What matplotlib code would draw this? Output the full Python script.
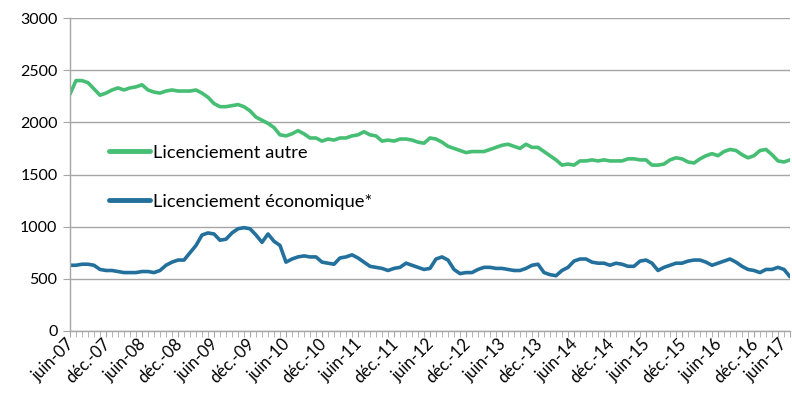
import matplotlib
matplotlib.use("Agg")
import matplotlib.pyplot as plt
import matplotlib.transforms as mtransforms
import numpy as np

autre = [2270, 2400, 2400, 2380, 2320, 2260, 2280, 2310, 2330, 2310,
         2330, 2340, 2360, 2310, 2290, 2280, 2300, 2310, 2300, 2300,
         2300, 2310, 2280, 2240, 2180, 2150, 2150, 2160, 2170, 2150,
         2110, 2050, 2020, 1990, 1950, 1880, 1870, 1890, 1920, 1890,
         1850, 1850, 1820, 1840, 1830, 1850, 1850, 1870, 1880, 1910,
         1880, 1870, 1820, 1830, 1820, 1840, 1840, 1830, 1810, 1800,
         1850, 1840, 1810, 1770, 1750, 1730, 1710, 1720, 1720, 1720,
         1740, 1760, 1780, 1790, 1770, 1750, 1790, 1760, 1760, 1720,
         1680, 1640, 1590, 1600, 1590, 1630, 1630, 1640, 1630, 1640,
         1630, 1630, 1630, 1650, 1650, 1640, 1640, 1590, 1590, 1600,
         1640, 1660, 1650, 1620, 1610, 1650, 1680, 1700, 1680, 1720,
         1740, 1730, 1690, 1660, 1680, 1730, 1740, 1690, 1630, 1620,
         1640]

economique = [630, 630, 640, 640, 630, 590, 580, 580, 570, 560,
              560, 560, 570, 570, 560, 580, 630, 660, 680, 680,
              750, 820, 920, 940, 930, 870, 880, 940, 980, 990,
              980, 920, 850, 930, 860, 820, 660, 690, 710, 720,
              710, 710, 660, 650, 640, 700, 710, 730, 700, 660,
              620, 610, 600, 580, 600, 610, 650, 630, 610, 590,
              600, 690, 710, 680, 590, 550, 560, 560, 590, 610,
              610, 600, 600, 590, 580, 580, 600, 630, 640, 560,
              540, 530, 580, 610, 670, 690, 690, 660, 650, 650,
              630, 650, 640, 620, 620, 670, 680, 650, 580, 610,
              630, 650, 650, 670, 680, 680, 660, 630, 650, 670,
              690, 660, 620, 590, 580, 560, 590, 590, 610, 590,
              520]

tick_labels = ["juin-07", "déc.-07", "juin-08", "déc.-08", "juin-09", "déc.-09",
               "juin-10", "déc.-10", "juin-11", "déc.-11", "juin-12", "déc.-12",
               "juin-13", "déc.-13", "juin-14", "déc.-14", "juin-15", "déc.-15",
               "juin-16", "déc.-16", "juin-17"]

plt.rcParams['font.family'] = ['Lato', 'DejaVu Sans']

fig = plt.figure(figsize=(7.92, 4.01), dpi=100)
ax = fig.add_axes([70/792, 1 - 331/401, 720/792, 313/401])

x = np.arange(len(autre))
green = "#46BE73"
blue = "#23709C"
ax.plot(x, autre, color=green, lw=2.6, solid_capstyle='round', label="Licenciement autre")
ax.plot(x, economique, color=blue, lw=2.6, solid_capstyle='round', label="Licenciement économique*")

ax.set_xlim(0, len(autre) - 1)
ax.set_ylim(0, 3000)
ax.set_yticks(np.arange(0, 3001, 500))
ax.yaxis.grid(True, color="#A6A6A6", lw=1)
ax.set_axisbelow(True)

ax.set_xticks(np.arange(0, len(autre), 6))
ax.set_xticklabels(tick_labels, rotation=45, ha='right', va='top', rotation_mode='anchor', fontsize=12)
ax.set_xticks(x, minor=True)
ax.tick_params(axis='x', which='both', direction='out', length=4, color="#A6A6A6", pad=3)
ax.tick_params(axis='y', direction='out', length=5, color="#A6A6A6", labelsize=11.5, pad=4)

labels = ax.get_xticklabels()
for k, lab in enumerate(labels):
    dx = -4 if k < len(labels) - 1 else -11
    offset = mtransforms.ScaledTranslation(dx/100, 5/100, fig.dpi_scale_trans)
    lab.set_transform(lab.get_transform() + offset)

for s in ['top', 'right']:
    ax.spines[s].set_visible(False)
for s in ['left', 'bottom']:
    ax.spines[s].set_color("#A6A6A6")
    ax.spines[s].set_linewidth(1)

leg = ax.legend(loc='upper left', bbox_to_anchor=(0.031, 0.648), frameon=False,
                fontsize=13.2, handlelength=2.25, labelspacing=1.8, handletextpad=0.15)
for h in leg.get_lines():
    h.set_linewidth(3.5)

fig.savefig("out.png", dpi=100)
